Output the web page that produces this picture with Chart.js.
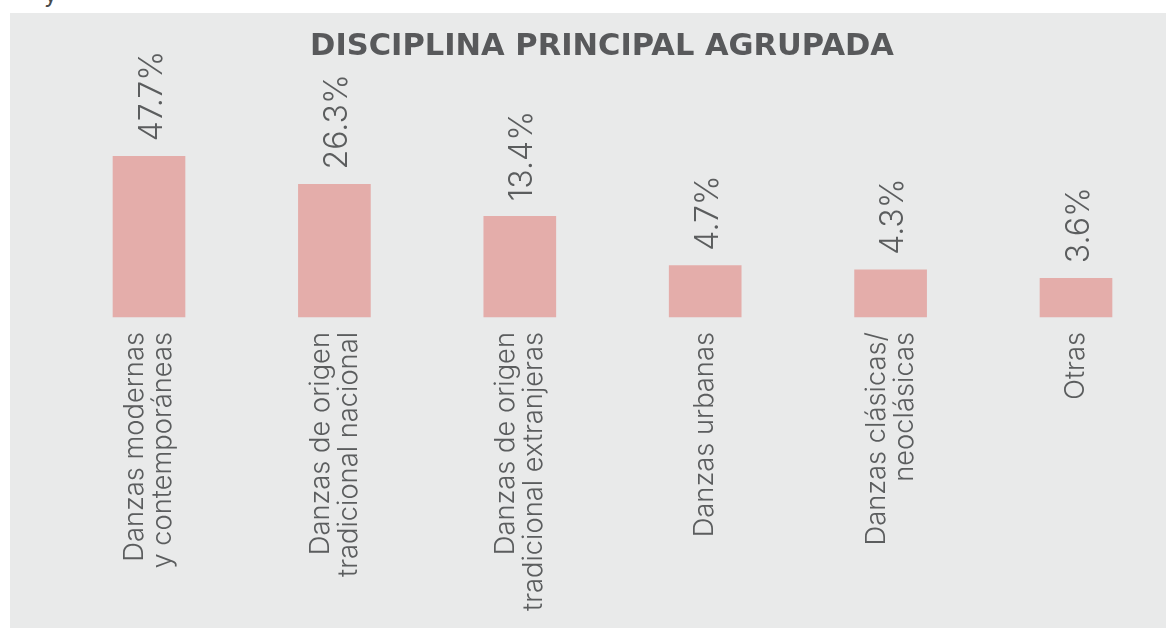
<!DOCTYPE html>
<html>
<head>
<meta charset="utf-8">
<script src="https://cdn.jsdelivr.net/npm/chart.js@4.4.1/dist/chart.umd.min.js"></script>
<style>
  html, body { margin: 0; padding: 0; background: #fff; overflow: hidden; }
  body { width: 1166px; height: 628px; position: relative; }
  #panel { position: absolute; left: 10px; top: 13px; width: 1156px; height: 615px; background: #e9eaea; }
  #cut { position: absolute; left: 44px; top: -21px; font: 24px Inter, sans-serif; color: #4a4b4c; }
</style>
</head>
<body>
<div id="cut">y</div>
<div id="panel"><canvas id="disciplinaChart" width="1156" height="615"></canvas></div>
<script>
// datos del gráfico
const categorias = [
  ['Danzas modernas', 'y contemporáneas'],
  ['Danzas de origen', 'tradicional nacional'],
  ['Danzas de origen', 'tradicional extranjeras'],
  ['Danzas urbanas'],
  ['Danzas clásicas/', 'neoclásicas'],
  ['Otras']
];
const porcentajes = [47.7, 26.3, 13.4, 4.7, 4.3, 3.6];
const titulo = 'DISCIPLINA PRINCIPAL AGRUPADA';

const colorBarra = '#e4adaa';
const colorTexto = '#5b5d5e';
const fuente = 'Inter, "Open Sans", sans-serif';

// etiquetas de valor giradas encima de cada barra
const etiquetasValor = {
  id: 'etiquetasValor',
  afterDatasetsDraw(chart) {
    const ctx = chart.ctx;
    const meta = chart.getDatasetMeta(0);
    ctx.save();
    ctx.fillStyle = colorTexto;
    ctx.font = '300 32px ' + fuente;
    ctx.textAlign = 'left';
    ctx.textBaseline = 'middle';
    meta.data.forEach((bar, i) => {
      ctx.save();
      ctx.translate(bar.x + 3, bar.y - 15);
      ctx.rotate(-Math.PI / 2);
      ctx.fillText(porcentajes[i].toFixed(1) + '%', 0, 0);
      ctx.restore();
    });
    ctx.restore();
  }
};

// nombres de categoría girados, con las dos líneas centradas en la barra
const etiquetasCategoria = {
  id: 'etiquetasCategoria',
  afterDraw(chart) {
    const ctx = chart.ctx;
    const x = chart.scales.x;
    const alto = 28;
    ctx.save();
    ctx.fillStyle = colorTexto;
    ctx.font = '300 27.3px ' + fuente;
    ctx.textAlign = 'right';
    ctx.textBaseline = 'middle';
    categorias.forEach((lineas, i) => {
      const px = x.getPixelForTick(i);
      lineas.forEach((txt, j) => {
        const off = (j - (lineas.length - 1) / 2) * alto;
        ctx.save();
        ctx.translate(px + off, chart.chartArea.bottom + 15);
        ctx.rotate(-Math.PI / 2);
        ctx.fillText(txt, 0, 0);
        ctx.restore();
      });
    });
    ctx.restore();
  }
};

const ctx = document.getElementById('disciplinaChart').getContext('2d');
new Chart(ctx, {
  type: 'bar',
  data: {
    labels: categorias,
    datasets: [{
      data: porcentajes,
      backgroundColor: colorBarra,
      borderWidth: 0,
      barThickness: 72,
      clip: false
    }]
  },
  options: {
    responsive: false,
    animation: false,
    events: [],
    layout: { padding: { left: 118, right: 90, top: 0, bottom: 0 } },
    plugins: {
      legend: { display: false },
      tooltip: { enabled: false },
      title: {
        display: true,
        text: titulo,
        color: '#58595b',
        font: { family: '"DejaVu Sans", sans-serif', size: 30.5, weight: 'bold' },
        padding: { top: 16, bottom: 9 }
      }
    },
    scales: {
      x: {
        offset: false,
        grid: { display: false, drawTicks: false },
        border: { display: false },
        ticks: { display: false },
        afterFit(scale) { scale.height = 311; }
      },
      y: {
        type: 'logarithmic',
        bounds: 'data',
        min: 1.583,
        max: 270,
        grid: { display: false },
        border: { display: false },
        ticks: { display: false },
        afterFit(scale) { scale.width = 21; }
      }
    }
  },
  plugins: [etiquetasValor, etiquetasCategoria]
});
</script>
</body>
</html>
